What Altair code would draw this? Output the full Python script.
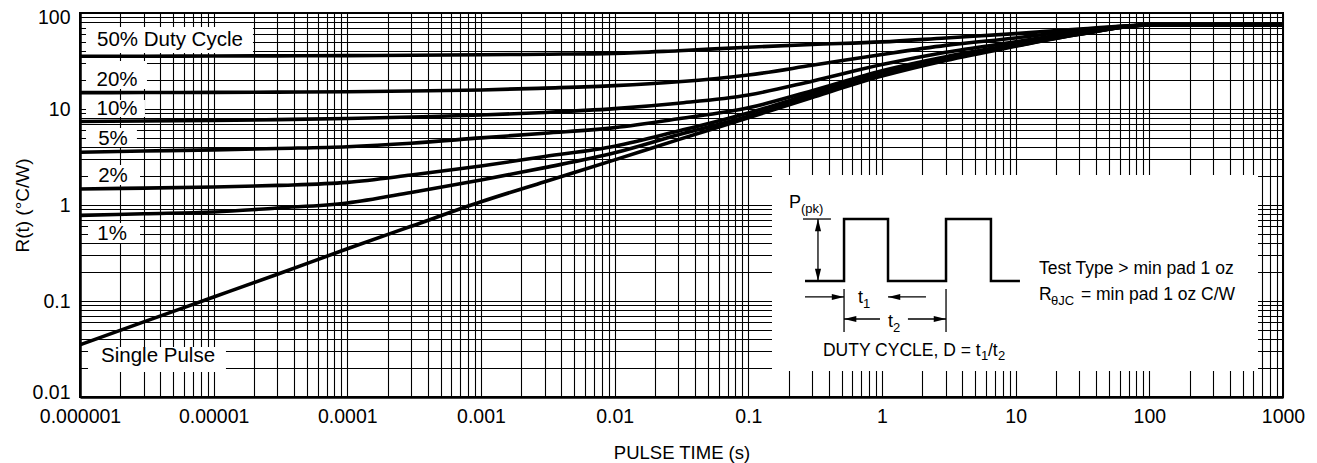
import altair as alt
import pandas as pd

# ---------------- data ----------------
pulse_time = [1e-6, 3e-6, 1e-5, 3e-5, 1e-4, 3e-4, 1e-3, 3e-3, 1e-2, 3e-2,
              0.1, 0.3, 1, 3, 10, 30, 100, 300, 1000]
r_50 = [35.5, 35.5, 35.6, 35.8, 36.0, 36.3, 36.7, 37.2, 38.0, 40.5,
        44.0, 47.0, 50.0, 55.0, 61.0, 68.0, 75.0, 75.0, 75.0]
r_20 = [14.8, 14.85, 14.9, 15.0, 15.1, 15.4, 15.8, 16.5, 17.5, 19.2,
        22.6, 28.5, 37.0, 46.0, 55.0, 66.0, 75.0, 75.0, 75.0]
r_10 = [7.4, 7.5, 7.6, 7.75, 7.95, 8.25, 8.65, 9.2, 10.1, 11.5,
        14.0, 19.5, 29.0, 39.0, 50.0, 63.0, 75.0, 75.0, 75.0]
r_5 = [3.55, 3.65, 3.75, 3.88, 4.05, 4.4, 5.0, 5.6, 6.4, 7.9,
       10.3, 15.5, 25.0, 35.0, 47.0, 61.0, 75.0, 75.0, 75.0]
r_2 = [1.47, 1.5, 1.54, 1.6, 1.72, 2.05, 2.55, 3.2, 4.1, 5.9,
       9.1, 14.5, 24.0, 34.0, 46.0, 60.5, 75.0, 75.0, 75.0]
r_1 = [0.78, 0.81, 0.845, 0.93, 1.05, 1.35, 1.82, 2.45, 3.5, 5.4,
       8.4, 13.8, 23.0, 33.0, 45.5, 60.0, 75.0, 75.0, 75.0]
r_single = [0.035, 0.0606, 0.11, 0.19, 0.35, 0.6, 1.08, 1.75, 2.95, 4.8,
            8.1, 13.2, 22.0, 32.0, 45.0, 60.0, 75.0, 75.0, 75.0]
series_names = ["50%", "20%", "10%", "5%", "2%", "1%", "Single Pulse"]
series_values = [r_50, r_20, r_10, r_5, r_2, r_1, r_single]

x_tick_values = [m * 10.0 ** k for k in range(-6, 3) for m in range(1, 10)] + [1000.0]
y_tick_values = [m * 10.0 ** k for k in range(-2, 2) for m in range(1, 10)] + [100.0]

# curve labels (log10 of position in data space)
label_texts = ["50% Duty Cycle", "20%", "10%", "5%", "2%", "1%", "Single Pulse"]
label_lt = [-5.327, -5.723, -5.723, -5.753, -5.753, -5.76, -5.416]
label_lr = [1.719, 1.307, 1.0, 0.6875, 0.302, -0.302, -1.573]
# white boxes behind labels + inset panel (log10 data space)
box_lt1 = [-5.955, -5.955, -5.955, -5.955, -5.94, -5.94, -5.94, -0.823]
box_lt2 = [-4.706, -5.499, -5.514, -5.574, -5.551, -5.551, -4.908, 2.813]
box_lr1 = [1.854, 1.5, 1.094, 0.802, 0.417, -0.1875, -1.479, 0.3125]
box_lr2 = [1.583, 1.208, 0.917, 0.604, 0.208, -0.396, -1.740, -1.729]

# inset pulse diagram (log10 data space)
wave_lt = [-0.576, -0.284, -0.284, 0.045, 0.045, 0.479, 0.479, 0.815, 0.815, 1.032]
wave_lr = [-0.792, -0.792, -0.146, -0.146, -0.792, -0.792, -0.146, -0.146, -0.792, -0.792]
seg_lt1 = [-0.591, -0.479, -0.576, 0.045, -0.284, 0.479, -0.284, 0.194]
seg_lt2 = [-0.382, -0.479, -0.284, 0.329, -0.284, 0.479, -0.015, 0.479]
seg_lr1 = [-0.146, -0.146, -0.958, -0.958, -0.875, -0.875, -1.1875, -1.1875]
seg_lr2 = [-0.146, -0.792, -0.958, -0.958, -1.323, -1.323, -1.1875, -1.1875]
arrow_lt = [-0.479, -0.479, -0.284, 0.045, -0.284, 0.479]
arrow_lr = [-0.146, -0.792, -0.958, -0.958, -1.1875, -1.1875]
arrow_dir = ["up", "down", "right", "left", "left", "right"]

# ---------------- tables ----------------
rows = []
for name, vals in zip(series_names, series_values):
    for t, r in zip(pulse_time, vals):
        rows.append({"t": t, "R": r, "series": name})
curves = pd.DataFrame(rows)

labels = pd.DataFrame({"t": [10 ** v for v in label_lt], "R": [10 ** v for v in label_lr], "text": label_texts})
boxes = pd.DataFrame({
    "t": [10 ** v for v in box_lt1], "t2": [10 ** v for v in box_lt2],
    "R": [10 ** v for v in box_lr1], "R2": [10 ** v for v in box_lr2],
})
wave = pd.DataFrame({"t": [10 ** v for v in wave_lt], "R": [10 ** v for v in wave_lr], "i": list(range(len(wave_lt)))})
segs = pd.DataFrame({
    "t": [10 ** v for v in seg_lt1], "t2": [10 ** v for v in seg_lt2],
    "R": [10 ** v for v in seg_lr1], "R2": [10 ** v for v in seg_lr2],
})
paths = {
    "right": "M0,0L-2,-0.5L-2,0.5Z",
    "left": "M0,0L2,-0.5L2,0.5Z",
    "up": "M0,0L-0.5,2L0.5,2Z",
    "down": "M0,0L-0.5,-2L0.5,-2Z",
}
arrows = pd.DataFrame({"t": [10 ** v for v in arrow_lt], "R": [10 ** v for v in arrow_lr],
                       "shape": [paths[d] for d in arrow_dir]})

# inset texts: anchor (log10) + pixel offsets for sub/superscript pieces
inset_rows = [
    # text, lt, lr, dx, dy, size
    ("P", -0.696, -0.031, 0, 0, 18),
    ("(pk)", -0.696, -0.031, 12, 5, 13),
    ("t", -0.180, -1.021, 0, 0, 18),
    ("1", -0.180, -1.021, 5, 5, 13),
    ("t", 0.045, -1.271, 0, 0, 18),
    ("2", 0.045, -1.271, 5, 5, 13),
    ("DUTY CYCLE, D = t", -0.442, -1.573, 0, 0, 17.5),
    ("1", -0.442, -1.573, 158, 4, 13),
    ("/t", -0.442, -1.573, 165, 0, 17.5),
    ("2", -0.442, -1.573, 175, 4, 13),
    ("Test Type > min pad 1 oz", 1.174, -0.719, 0, 0, 17.5),
    ("R", 1.174, -0.990, 0, 0, 17.5),
    ("\u03b8JC", 1.174, -0.990, 12, 5, 13),
    ("= min pad 1 oz C/W", 1.174, -0.990, 42, 0, 17.5),
]

FONT = "Liberation Sans"
label_expr = ("abs(log(datum.value)/LN10 - round(log(datum.value)/LN10)) < 0.001 "
              "? format(datum.value, '~f') : ''")

xscale = alt.Scale(type="log", domain=[1e-6, 1000], nice=False)
yscale = alt.Scale(type="log", domain=[0.01, 100], nice=False)

xaxis = alt.Axis(values=x_tick_values, labelExpr=label_expr, grid=True, gridColor="black",
                 gridOpacity=1, gridWidth=1.1, ticks=False, domainColor="black", domainWidth=2.5,
                 labelFontSize=19.5, labelColor="black", labelPadding=10, labelOverlap=False,
                 labelFlush=False, labelBound=False, labelFont=FONT,
                 title="PULSE TIME (s)", titleFontSize=18.5, titleFontWeight="normal",
                 titleColor="black", titleFont=FONT, titleY=55, titleBaseline="middle")
yaxis = alt.Axis(values=y_tick_values, labelExpr=label_expr, grid=True, gridColor="black",
                 gridOpacity=1, gridWidth=1.1, ticks=False, domainColor="black", domainWidth=2.5,
                 labelFontSize=19.5, labelColor="black", labelPadding=10, labelOverlap=False,
                 labelFlush=True, labelFlushOffset=5, labelBound=False, labelFont=FONT,
                 title="R(t) (\u00b0C/W)", titleFontSize=19, titleFontWeight="normal",
                 titleColor="black", titleFont=FONT, titleX=-58, titleY=192,
                 titleAngle=270, titleBaseline="middle", titleAlign="center")


def X(field="t"):
    return alt.X(f"{field}:Q", scale=xscale, axis=xaxis)


def Y(field="R"):
    return alt.Y(f"{field}:Q", scale=yscale, axis=yaxis)


box_layer = alt.Chart(boxes).mark_rect(fill="white", stroke=None).encode(
    x=X(), x2="t2:Q", y=Y(), y2="R2:Q")

curve_layer = alt.Chart(curves).mark_line(color="black", strokeWidth=3.6, interpolate="monotone").encode(
    x=X(), y=Y(), detail="series:N")

label_layer = alt.Chart(labels).mark_text(fontSize=20.5, color="black", align="center",
                                          baseline="middle", font=FONT).encode(
    x=X(), y=Y(), text="text:N")

wave_layer = alt.Chart(wave).mark_line(color="black", strokeWidth=2.5).encode(
    x=X(), y=Y(), order="i:Q")

seg_layer = alt.Chart(segs).mark_rule(color="black", strokeWidth=1.3).encode(
    x=X(), x2="t2:Q", y=Y(), y2="R2:Q")

arrow_layer = alt.Chart(arrows).mark_point(filled=True, color="black", opacity=1, size=150).encode(
    x=X(), y=Y(), shape=alt.Shape("shape:N", scale=None))

inset_layers = []
for txt, lt, lr, dx, dy, fs in inset_rows:
    d = pd.DataFrame({"t": [10 ** lt], "R": [10 ** lr], "text": [txt]})
    inset_layers.append(
        alt.Chart(d).mark_text(fontSize=fs, color="black", align="left", baseline="alphabetic",
                               dx=dx, dy=dy, font=FONT).encode(x=X(), y=Y(), text="text:N"))

chart = alt.layer(box_layer, curve_layer, label_layer, wave_layer, seg_layer, arrow_layer,
                  *inset_layers).properties(
    width=1203, height=384,
    autosize=alt.AutoSizeParams(type="none"),
    padding={"left": 80, "top": 13, "right": 34, "bottom": 66},
).configure(font=FONT).configure_view(stroke="black", strokeWidth=2)

chart.save("out.html", embed_options={"renderer": "svg", "actions": False})
